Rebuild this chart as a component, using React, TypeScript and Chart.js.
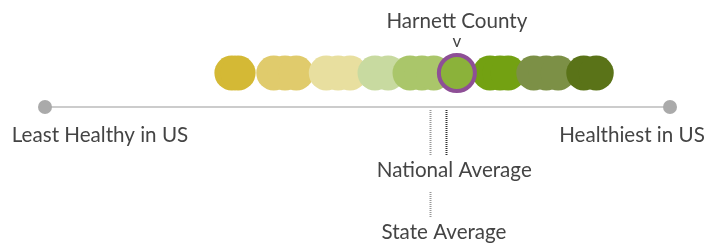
import React, { useEffect, useRef } from "react";
import { Chart, registerables } from "chart.js";

Chart.register(...registerables);

// Scale: 0 = least healthy in US, 100 = healthiest in US
const AXIS_ENDS = [0, 100];
const COUNTY_NAME = "Harnett County";
const COUNTY_VALUE = 65.9;
const NATIONAL_AVG = 64.2;
const STATE_AVG = 61.6;
const LEFT_LABEL = "Least Healthy in US";
const RIGHT_LABEL = "Healthiest in US";
const NATIONAL_LABEL = "National Average";
const STATE_LABEL = "State Average";

// Peer counties (scores) and their colour groups
const PEER_VALUES = [
  29.9, 30.9,
  36.6, 38.4, 40.2,
  45.0, 46.9, 48.8,
  52.8, 54.9,
  58.4, 60.3, 62.2,
  71.2, 72.8, 74.1,
  78.2, 80.2, 82.1,
  86.2, 88.2,
];
const PEER_COLORS = [
  "#d4b935", "#d4b935",
  "#e0cb6c", "#e0cb6c", "#e0cb6c",
  "#e8df9f", "#e8df9f", "#e8df9f",
  "#c8daa0", "#c8daa0",
  "#aac66a", "#aac66a", "#aac66a",
  "#73a112", "#73a112", "#73a112",
  "#7c9046", "#7c9046", "#7c9046",
  "#5a7318", "#5a7318",
];

// vertical levels (y axis runs 0 at top to 243 at bottom)
const DOT_ROW = 73;
const AXIS_ROW = 107;

export default function App() {
  const ref = useRef<HTMLCanvasElement>(null);
  useEffect(() => {
    const canvas = ref.current;
    if (!canvas) return;
    const textPlugin = {
      id: "labels",
      afterDatasetsDraw(chart: any) {
        const ctx = chart.ctx;
        const xs = chart.scales.x;
        const ys = chart.scales.y;
        const font = '20.6px Lato, "Open Sans", sans-serif';
        ctx.save();
        ctx.fillStyle = "#444";
        ctx.font = font;
        ctx.textAlign = "center";
        ctx.textBaseline = "middle";
        const cx = xs.getPixelForValue(COUNTY_VALUE);
        ctx.fillText(COUNTY_NAME, cx, ys.getPixelForValue(21));
        ctx.font = '17px Lato, "Open Sans", sans-serif';
        ctx.fillText("v", cx, ys.getPixelForValue(42));
        ctx.font = font;
        const l = xs.getPixelForValue(AXIS_ENDS[0]);
        const r = xs.getPixelForValue(AXIS_ENDS[1]);
        ctx.fillText(LEFT_LABEL, l + 55, ys.getPixelForValue(135));
        ctx.fillText(RIGHT_LABEL, r - 38, ys.getPixelForValue(135));
        const nx = xs.getPixelForValue(NATIONAL_AVG);
        const sx = xs.getPixelForValue(STATE_AVG);
        ctx.fillText(NATIONAL_LABEL, nx + 8, ys.getPixelForValue(170));
        ctx.fillText(STATE_LABEL, sx + 14, ys.getPixelForValue(232));
        // dotted average lines
        ctx.setLineDash([1, 1]);
        ctx.lineWidth = 2;
        ctx.strokeStyle = "#999";
        ctx.beginPath();
        ctx.moveTo(Math.round(sx) + 0.5, ys.getPixelForValue(110));
        ctx.lineTo(Math.round(sx) + 0.5, ys.getPixelForValue(155));
        ctx.moveTo(Math.round(sx) + 0.5, ys.getPixelForValue(192));
        ctx.lineTo(Math.round(sx) + 0.5, ys.getPixelForValue(218));
        ctx.stroke();
        ctx.strokeStyle = "#333";
        ctx.beginPath();
        ctx.moveTo(Math.round(nx) + 0.5, ys.getPixelForValue(110));
        ctx.lineTo(Math.round(nx) + 0.5, ys.getPixelForValue(155));
        ctx.stroke();
        ctx.restore();
      },
    };
    const chart = new Chart(canvas, {
      type: "scatter",
      data: {
        datasets: [
          {
            type: "line",
            data: AXIS_ENDS.map((v) => ({ x: v, y: AXIS_ROW })),
            borderColor: "#cccccc",
            borderWidth: 2,
            pointRadius: 7,
            pointBackgroundColor: "#aaaaaa",
            pointBorderWidth: 0,
            clip: false,
            order: 3,
          } as any,
          {
            data: PEER_VALUES.map((v) => ({ x: v, y: DOT_ROW })),
            pointRadius: 17.5,
            pointBackgroundColor: PEER_COLORS,
            pointBorderWidth: 0,
            clip: false,
            order: 2,
          },
          {
            data: [{ x: COUNTY_VALUE, y: DOT_ROW }],
            pointRadius: 18,
            pointBackgroundColor: "#8bb23a",
            pointBorderColor: "#8e4f96",
            pointBorderWidth: 4,
            clip: false,
            order: 1,
          },
        ],
      },
      options: {
        animation: false,
        responsive: false,
        maintainAspectRatio: false,
        layout: { autoPadding: false, padding: { left: 45, right: 46, top: 0, bottom: 0 } },
        plugins: { legend: { display: false }, tooltip: { enabled: false } },
        scales: {
          x: { type: "linear", min: 0, max: 100, display: false },
          y: { type: "linear", min: 0, max: 243, reverse: true, display: false },
        },
      },
      plugins: [textPlugin],
    });
    return () => chart.destroy();
  }, []);
  return (
    <div style={{ position: "absolute", left: 0, top: 0, width: 716, height: 243 }}>
      <canvas ref={ref} width={716} height={243} style={{ width: 716, height: 243 }} />
    </div>
  );
}
